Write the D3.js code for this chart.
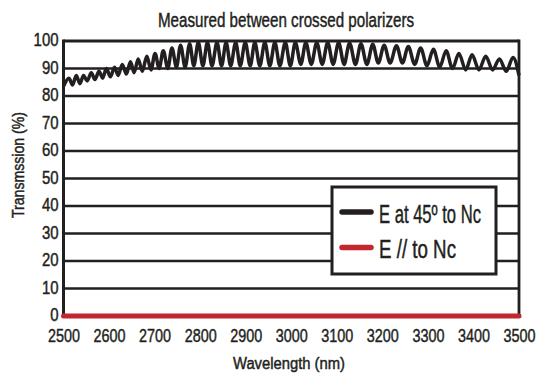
<!DOCTYPE html>
<html>
<head>
<meta charset="utf-8">
<script src="https://cdn.jsdelivr.net/npm/d3@7"></script>
<style>
  html, body { margin: 0; padding: 0; background: #fff; }
  svg { display: block; }
  text {
    font-family: "Liberation Sans Narrow", "Liberation Sans", "DejaVu Sans", sans-serif;
    fill: #231f20;
    stroke: #231f20;
    stroke-width: 0.45px;
  }
</style>
</head>
<body>
<svg id="chart" width="550" height="380"></svg>
<script>
// Axis ticks
const wavelengthTicks = [2500, 2600, 2700, 2800, 2900, 3000, 3100, 3200, 3300, 3400, 3500];
const percentTicks = [0, 10, 20, 30, 40, 50, 60, 70, 80, 90, 100];

// E at 45° to Nc: fringe maxima (wavelength nm, transmission %)
const peakNm = [2512, 2528, 2544, 2561, 2578, 2594, 2612, 2629, 2647, 2664,
                2683, 2701, 2719, 2738, 2757, 2777, 2796, 2816, 2837, 2857,
                2878, 2899, 2920, 2942, 2964, 2987, 3009, 3032, 3056, 3080,
                3104, 3128, 3153, 3179, 3204, 3231, 3257, 3284, 3312, 3340,
                3368, 3397, 3427, 3457, 3487];
const peakPct = [86.5, 87.5, 87.5, 88.5, 89, 90, 90.5, 91.5, 92.5, 93.5,
                 94.5, 95.5, 96.5, 97.5, 98.5, 99, 99.5, 99.5, 99.5, 99.5,
                 99.5, 99.5, 99.5, 99.5, 99.5, 99.5, 99.5, 99.5, 99.5, 99.5,
                 99.5, 99.3, 99, 98.8, 98.5, 98.3, 98, 97.5, 97, 96.5,
                 95.5, 95, 94.5, 93.5, 94];

// E at 45° to Nc: fringe minima, including both ends of the scan
const valleyNm = [2500, 2520, 2536, 2552, 2569, 2586, 2603, 2620, 2638, 2655,
                  2673, 2692, 2710, 2729, 2748, 2767, 2786, 2806, 2826, 2847,
                  2867, 2888, 2910, 2931, 2953, 2975, 2998, 3021, 3044, 3068,
                  3092, 3116, 3141, 3166, 3191, 3217, 3244, 3271, 3298, 3326,
                  3354, 3383, 3412, 3442, 3472, 3500];
const valleyPct = [83.5, 84, 84.5, 85.5, 86, 86.5, 87, 87.5, 88, 88.5,
                   89, 89.5, 90, 90, 90.5, 90.5, 91, 91, 91, 91,
                   91, 91, 91, 91, 91, 91, 91, 91.5, 91.5, 91.5,
                   91.5, 91.5, 91.5, 91.5, 92, 92, 92, 91.5, 91, 90.5,
                   90, 89.5, 89.5, 89.5, 89, 87.5];

// E // to Nc: extinction across the whole range
const parallelNm = [2500, 3500];
const parallelPct = [0, 0];

const legendLabels = ["E at 45º to Nc", "E // to Nc"];
const seriesColors = ["#231f20", "#c1272d"];

const ink = "#231f20";
const svg = d3.select("#chart");

const x = d3.scaleLinear().domain([2500, 3500]).range([63.5, 519]);
const y = d3.scaleLinear().domain([0, 100]).range([316, 41]);

// Squeeze text into a narrow, condensed look
function condense(sel, perChar) {
  sel.attr("textLength", function () { return this.textContent.length * perChar; })
     .attr("lengthAdjust", "spacingAndGlyphs");
}

// Horizontal grid
svg.append("g")
  .selectAll("line")
  .data(percentTicks.filter(d => d > 0))
  .join("line")
  .attr("x1", x(2500)).attr("x2", x(3500))
  .attr("y1", d => y(d)).attr("y2", d => y(d))
  .attr("stroke", ink)
  .attr("stroke-width", d => d === 100 ? 2.8 : 2.4);

// Frame sides
svg.append("line")
  .attr("x1", x(3500)).attr("x2", x(3500))
  .attr("y1", y(100) - 1.4).attr("y2", y(0))
  .attr("stroke", ink).attr("stroke-width", 2.8);
svg.append("line")
  .attr("x1", x(2500)).attr("x2", x(2500))
  .attr("y1", y(100) - 1.4).attr("y2", y(0) + 1)
  .attr("stroke", ink).attr("stroke-width", 3);

// Y axis labels
const yAxis = svg.append("g")
  .attr("transform", `translate(${x(2500)},0)`)
  .call(d3.axisLeft(y).tickValues(percentTicks).tickSize(0).tickPadding(5).tickFormat(d3.format("d")));
yAxis.select(".domain").remove();
yAxis.selectAll("text")
  .attr("font-size", 18)
  .attr("dy", "0.27em")
  .style("font-family", "'Liberation Sans Narrow', 'Liberation Sans', sans-serif")
  .call(condense, 8.3);

// X axis labels
const xAxis = svg.append("g")
  .attr("transform", `translate(0,${y(0)})`)
  .call(d3.axisBottom(x).tickValues(wavelengthTicks).tickSize(0).tickPadding(13).tickFormat(d3.format("d")));
xAxis.select(".domain").remove();
xAxis.selectAll("text")
  .attr("font-size", 19)
  .style("font-family", "'Liberation Sans Narrow', 'Liberation Sans', sans-serif")
  .call(condense, 8.0);

// Transmission at 45°
const fringePoints = peakNm.map((d, i) => [d, peakPct[i]])
  .concat(valleyNm.map((d, i) => [d, valleyPct[i]]))
  .sort((a, b) => a[0] - b[0]);

const line = d3.line()
  .x(d => x(d[0]))
  .y(d => y(d[1]))
  .curve(d3.curveMonotoneX);

svg.append("path")
  .datum(fringePoints)
  .attr("fill", "none")
  .attr("stroke", seriesColors[0])
  .attr("stroke-width", 3.5)
  .attr("stroke-linejoin", "round")
  .attr("d", line);

// Transmission parallel to Nc
svg.append("path")
  .datum(parallelNm.map((d, i) => [d, parallelPct[i]]))
  .attr("fill", "none")
  .attr("stroke", seriesColors[1])
  .attr("stroke-width", 5)
  .attr("stroke-linecap", "round")
  .attr("d", line);

// Legend
const legend = svg.append("g");
legend.append("rect")
  .attr("x", 332).attr("y", 187)
  .attr("width", 164).attr("height", 87)
  .attr("fill", "#fff")
  .attr("stroke", ink).attr("stroke-width", 3);

const rows = legend.selectAll("g.row")
  .data(legendLabels)
  .join("g")
  .attr("class", "row")
  .attr("transform", (d, i) => `translate(0,${212 + i * 35.5})`);

rows.append("line")
  .attr("x1", 342).attr("x2", 371)
  .attr("y1", 0).attr("y2", 0)
  .attr("stroke", (d, i) => seriesColors[i])
  .attr("stroke-width", 5.5)
  .attr("stroke-linecap", "round");

rows.append("text")
  .attr("x", 379).attr("y", 10.5)
  .attr("font-size", 25)
  .attr("textLength", (d, i) => i === 0 ? 102 : 77)
  .attr("lengthAdjust", "spacingAndGlyphs")
  .text(d => d);

// Title
svg.append("text")
  .attr("x", 158).attr("y", 27)
  .attr("font-size", 20)
  .attr("textLength", 256)
  .attr("lengthAdjust", "spacingAndGlyphs")
  .text("Measured between crossed polarizers");

// Axis titles
svg.append("text")
  .attr("transform", "translate(23.5,165) rotate(-90)")
  .attr("text-anchor", "middle")
  .attr("font-size", 16)
  .attr("textLength", 106)
  .attr("lengthAdjust", "spacingAndGlyphs")
  .text("Transmssion (%)");

svg.append("text")
  .attr("x", 289).attr("y", 369)
  .attr("text-anchor", "middle")
  .attr("font-size", 16)
  .attr("textLength", 112)
  .attr("lengthAdjust", "spacingAndGlyphs")
  .text("Wavelength (nm)");
</script>
</body>
</html>
